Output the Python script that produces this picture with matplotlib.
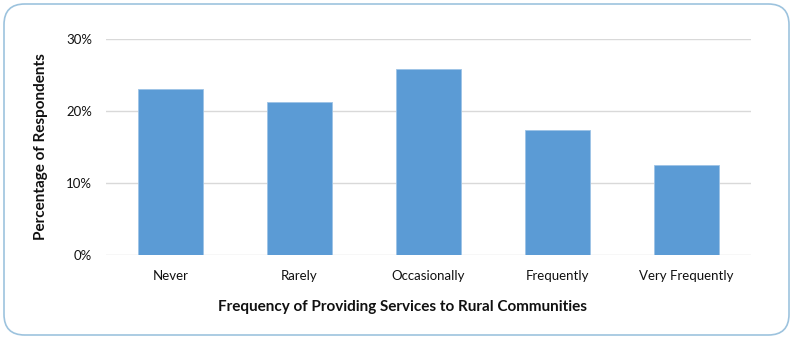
import matplotlib.pyplot as plt
from matplotlib.patches import FancyBboxPatch
from matplotlib.ticker import PercentFormatter

categories = ["Never", "Rarely", "Occasionally", "Frequently", "Very Frequently"]
percent = [23.0, 21.3, 25.8, 17.4, 12.5]
yticks = [0, 10, 20, 30]

plt.rcParams['font.family'] = ['Lato', 'DejaVu Sans']

fig = plt.figure(figsize=(7.94, 3.39), dpi=100)
# plot area in pixel terms: x 106..751, y 39..255 of a 794x339 canvas
ax = fig.add_axes([106 / 794, 1 - 255 / 339, 645 / 794, 216 / 339])
ax.set_zorder(2)

# rounded outer frame
frame = FancyBboxPatch((4 / 794, 4 / 339), 785 / 794, 331 / 339,
                       boxstyle="round,pad=0,rounding_size=0.026",
                       transform=fig.transFigure, facecolor='white',
                       edgecolor='#9DC3DE', linewidth=1.2, zorder=-1,
                       mutation_aspect=794 / 339)
fig.patches.append(frame)

x = range(len(categories))
ax.bar(x, percent, width=0.5, color='#5B9BD5', edgecolor='#9DC3E6',
       linewidth=0.6, zorder=3)

ax.set_xlim(-0.5, len(categories) - 0.5)
ax.set_ylim(0, 30)
ax.set_yticks(yticks)
ax.yaxis.set_major_formatter(PercentFormatter(decimals=0))
ax.set_xticks(list(x))
ax.set_xticklabels(categories)
ax.grid(axis='y', color='#D9D9D9', linewidth=1, zorder=0)
ax.set_axisbelow(True)
for s in ax.spines.values():
    s.set_visible(False)
ax.tick_params(length=0, labelsize=9.5, colors='#111111')
ax.tick_params(axis='x', pad=11)
ax.tick_params(axis='y', pad=10)
ax.patch.set_alpha(0)

# axis titles are centred on the chart box rather than the plot area
fig.text(403 / 794, 1 - 307 / 339,
         "Frequency of Providing Services to Rural Communities",
         ha='center', va='center', fontsize=11, fontweight='bold',
         color='#111111')
ax.set_ylabel("Percentage of Respondents", fontsize=11, fontweight='bold',
              labelpad=13, color='#111111')

fig.savefig("out.png", dpi=100)
